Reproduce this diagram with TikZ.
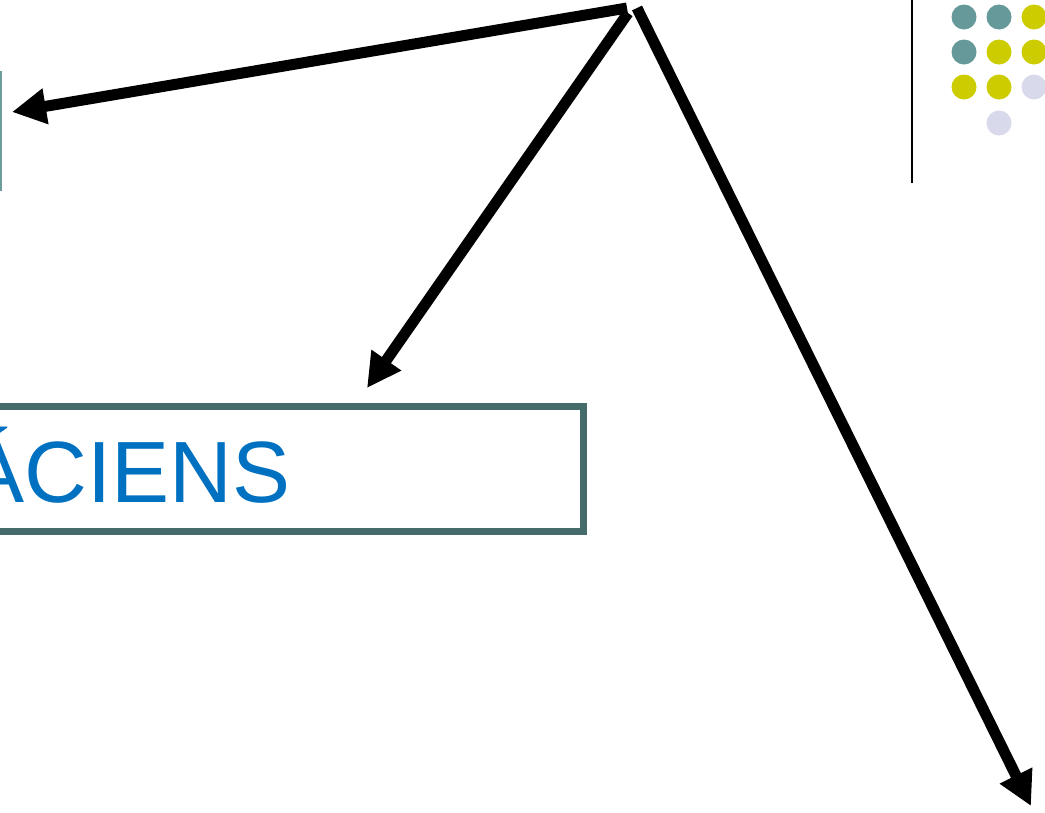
\documentclass[tikz,border=0pt]{standalone}
\usepackage{fontspec}
\setmainfont{Liberation Sans}
\usetikzlibrary{arrows.meta}
\definecolor{boxline}{HTML}{466B6B}
\definecolor{leftline}{HTML}{6E9C9C}
\definecolor{txtblue}{HTML}{0070C0}
\definecolor{dteal}{HTML}{669999}
\definecolor{dyell}{HTML}{CCCC00}
\definecolor{dlav}{HTML}{D9D9EC}
\begin{document}
\begin{tikzpicture}[x=1pt,y=-1pt,
  fat/.style={line width=11pt,-{Triangle[length=34pt,width=34pt]}},
  dot/.style={radius=12.5pt}]
\useasboundingbox (0,0) rectangle (1045,812);
% left box (mostly off page)
\node[draw=leftline,line width=2.5pt,minimum width=400pt,minimum height=118pt,inner sep=0pt] (leftbox) at (-199,131) {};
% main box
\node[draw=boxline,line width=7pt,minimum width=1000pt,minimum height=125pt,inner sep=0pt] (mainbox) at (83,468.5) {};
\node[anchor=base east,text=txtblue,font=\fontsize{87}{90}\selectfont,inner sep=0pt] (label) at (291,502) {ÁCIENS};
% arrow sources and ends
\coordinate (s1) at (627,8);
\coordinate (s2) at (628,13);
\coordinate (s3) at (637,8);
\coordinate (t1) at (12,112);
\coordinate (t2) at (367,388);
\coordinate (t3) at (1031,806);
\draw[fat] (s1) -- (t1);
\draw[fat] (s2) -- (t2);
\draw[fat] (s3) -- (t3);
% vertical rule
\draw[line width=2.5pt] (912,0) -- (912,183);
% dots
\fill[dteal] (964,17) circle[dot];
\fill[dteal] (999,17) circle[dot];
\fill[dyell] (1034,17) circle[dot];
\fill[dteal] (964,52) circle[dot];
\fill[dyell] (999,52) circle[dot];
\fill[dyell] (1034,52) circle[dot];
\fill[dyell] (964,87) circle[dot];
\fill[dyell] (999,87) circle[dot];
\fill[dlav] (1034,87) circle[dot];
\fill[dlav] (999,123) circle[dot];
\end{tikzpicture}
\end{document}
